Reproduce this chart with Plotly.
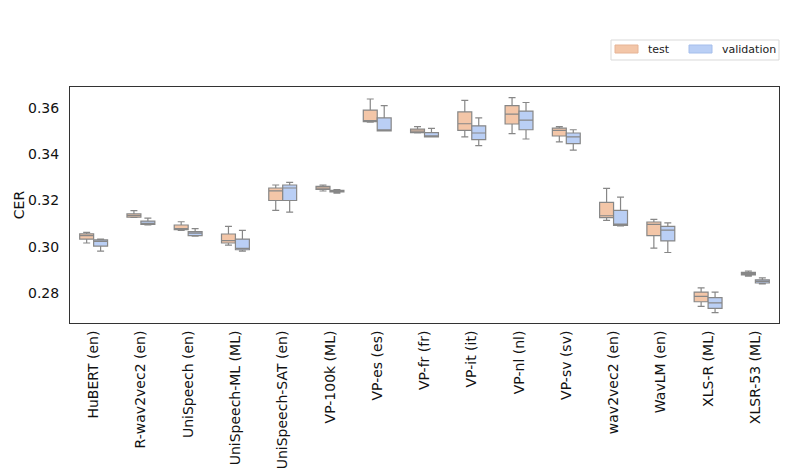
import plotly.graph_objects as go

models = ["HuBERT (en)", "R-wav2vec2 (en)", "UniSpeech (en)", "UniSpeech-ML (ML)",
          "UniSpeech-SAT (en)", "VP-100k (ML)", "VP-es (es)", "VP-fr (fr)", "VP-it (it)",
          "VP-nl (nl)", "VP-sv (sv)", "wav2vec2 (en)", "WavLM (en)", "XLS-R (ML)", "XLSR-53 (ML)"]

# test split statistics
test_low = [0.3016, 0.3127, 0.3071, 0.3007, 0.3157, 0.3241, 0.3539, 0.3492, 0.3475, 0.3489, 0.3454, 0.3114, 0.2994, 0.2742, 0.2873]
test_q1 = [0.3033, 0.3128, 0.3074, 0.3016, 0.3200, 0.3248, 0.3541, 0.3494, 0.3503, 0.3531, 0.3479, 0.3126, 0.3048, 0.2762, 0.2878]
test_med = [0.3048, 0.3135, 0.3078, 0.3026, 0.3242, 0.3254, 0.3544, 0.3500, 0.3532, 0.3574, 0.3503, 0.3134, 0.3097, 0.2785, 0.2884]
test_q3 = [0.3056, 0.3142, 0.3094, 0.3055, 0.3254, 0.3261, 0.3591, 0.3509, 0.3583, 0.3610, 0.3513, 0.3192, 0.3107, 0.2804, 0.2889]
test_high = [0.3062, 0.3156, 0.3108, 0.3088, 0.3267, 0.3267, 0.3639, 0.3520, 0.3633, 0.3645, 0.3520, 0.3252, 0.3118, 0.2822, 0.2895]

# validation split statistics
val_low = [0.2981, 0.3094, 0.3046, 0.2981, 0.3150, 0.3232, 0.3501, 0.3475, 0.3437, 0.3466, 0.3418, 0.3090, 0.2975, 0.2715, 0.2839]
val_q1 = [0.3003, 0.3097, 0.3048, 0.2987, 0.3200, 0.3237, 0.3501, 0.3475, 0.3463, 0.3506, 0.3446, 0.3092, 0.3025, 0.2733, 0.2843]
val_med = [0.3023, 0.3100, 0.3059, 0.2993, 0.3254, 0.3240, 0.3503, 0.3477, 0.3492, 0.3548, 0.3475, 0.3098, 0.3072, 0.2757, 0.2850]
val_q3 = [0.3030, 0.3111, 0.3065, 0.3033, 0.3267, 0.3244, 0.3557, 0.3494, 0.3523, 0.3587, 0.3492, 0.3157, 0.3088, 0.2780, 0.2857]
val_high = [0.3033, 0.3124, 0.3078, 0.3071, 0.3278, 0.3247, 0.3610, 0.3512, 0.3557, 0.3624, 0.3506, 0.3215, 0.3103, 0.2804, 0.2865]

series_names = ["test", "validation"]
y_ticks = [0.28, 0.30, 0.32, 0.34, 0.36]

FONT = "DejaVu Sans"
EDGE = "rgb(135,135,135)"
FILLS = ["rgb(243,198,168)", "rgb(186,207,245)"]
SWATCH_EDGE = ["rgb(230,180,150)", "rgb(165,190,235)"]

fig = go.Figure()
fig.add_trace(go.Box(
    name=series_names[0], x=models, q1=test_q1, median=test_med, q3=test_q3,
    lowerfence=test_low, upperfence=test_high,
    fillcolor=FILLS[0], line=dict(color=EDGE, width=1.2),
    whiskerwidth=0.5, boxpoints=False, offsetgroup="test", showlegend=False))
fig.add_trace(go.Box(
    name=series_names[1], x=models, q1=val_q1, median=val_med, q3=val_q3,
    lowerfence=val_low, upperfence=val_high,
    fillcolor=FILLS[1], line=dict(color=EDGE, width=1.2),
    whiskerwidth=0.5, boxpoints=False, offsetgroup="validation", showlegend=False))

# Plot area in figure pixels (browser body adds an 8px offset)
L, R, T, B = 62, 22, 79, 161
W, H = 793, 476
pw, ph = W - L - R, H - T - B


def px(fx):
    return (fx - L) / pw


def py(fy):
    return (H - B - fy) / ph


shapes = [dict(type="rect", xref="paper", yref="paper",
               x0=px(603), x1=px(771), y0=py(52), y1=py(32),
               line=dict(color="#d9d9d9", width=1), fillcolor="white", layer="above")]
annotations = []
sw_x = [607, 681]
tx_x = [638, 712]
for i, nm in enumerate(series_names):
    shapes.append(dict(type="rect", xref="paper", yref="paper",
                       x0=px(sw_x[i]), x1=px(sw_x[i] + 23), y0=py(45), y1=py(37),
                       line=dict(color=SWATCH_EDGE[i], width=1), fillcolor=FILLS[i], layer="above"))
    annotations.append(dict(text=nm, xref="paper", yref="paper", x=px(tx_x[i]), y=py(41.5),
                            xanchor="left", yanchor="middle", showarrow=False,
                            font=dict(size=11, family=FONT, color="#222")))

fig.update_layout(
    width=W, height=H,
    margin=dict(l=L, r=R, t=T, b=B, autoexpand=False),
    paper_bgcolor="white", plot_bgcolor="white",
    boxmode="group", boxgap=0.41, boxgroupgap=0.0,
    font=dict(family=FONT, size=14, color="#222"),
    showlegend=False,
    shapes=shapes, annotations=annotations,
)
fig.update_xaxes(
    tickangle=-90, showline=True, mirror=True, linecolor="#333", linewidth=1,
    showgrid=False, ticks="", ticklabelstandoff=1, automargin=False,
    tickfont=dict(size=14, family=FONT, color="#111"),
)
fig.update_yaxes(
    range=[0.2670, 0.3691], tickvals=y_ticks, tickformat=".2f",
    showline=True, mirror=True, linecolor="#333", linewidth=1,
    showgrid=False, zeroline=False, ticks="", ticklabelstandoff=7, automargin=False,
    title=dict(text="CER", font=dict(size=14, family=FONT, color="#111"), standoff=0),
    tickfont=dict(size=14, family=FONT, color="#111"),
)

fig.write_html("out.html")
